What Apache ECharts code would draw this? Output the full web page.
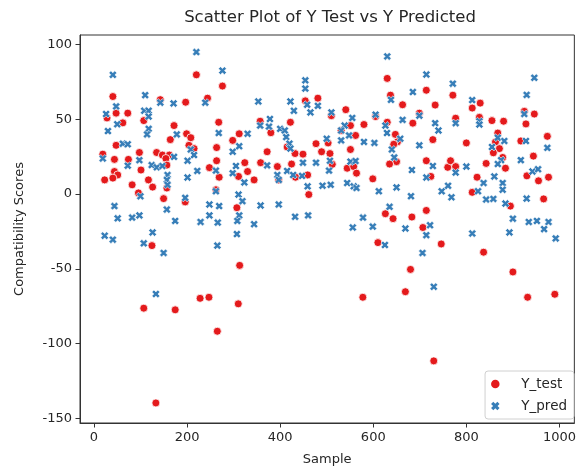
<!DOCTYPE html>
<html>
<head>
<meta charset="utf-8">
<script src="https://cdn.jsdelivr.net/npm/echarts@6/dist/echarts.min.js"></script>
<style>html,body{margin:0;padding:0;background:#fff}#c{width:579px;height:471px}</style>
</head>
<body>
<div id="c"></div>
<script>
// Y_test values (sample index, score)
const yTest = [
[220,79.6],[40.6,65.1],[197,61.3],[47.6,54],[72.6,54],[28,50.8],[62,47.5],[107,49],[172,45.7],[164,36.3],[199,40.2],[208,37.6],[47.6,32.5],[204,32.5],[215,30.3],[97.6,27.7],[134.6,27.7],[147,26],[162,26],[19,26.6],[44,23.1],[74,23.1],[154.5,23.7],[156.6,19.3],[101,16],[44,15],[51,12.7],[23,9.4],[40.6,10.6],[117,9.4],[82,6.1],[126,4.6],[95.5,0.7],[149.6,-3.1],[196,-5.3],[156.6,4],[142.5,63],
[276,72.1],[244,64],[454,62.2],[481,64],[268,47.9],[357,48.6],[422,47.9],[312,40.2],[298,35.8],[380,40.9],[263.5,31],[415,31.4],[477,33.6],[489,28.2],[372,28.2],[432,27],[449,26.6],[263.5,22.2],[324,20.9],[358,20.9],[248,17.6],[424.5,20],[269,11.2],[330,15],[394,18.3],[310.5,11.7],[344,9.4],[397,9.4],[433,11.2],[459,12.7],[262,2.8],[461.5,-0.4],[307,-9.2],
[630,77.2],[714,69.3],[637,66],[663,59.6],[733,59.4],[541,56.3],[510,52.3],[605,51.7],[630,47.9],[580,46.4],[685,47.3],[699,54],[551,45.7],[562,39.1],[647.5,39.8],[531,42.4],[503,34.1],[652,34.8],[728,36.3],[551,29.7],[507,27],[644,33.2],[650,21.6],[635,20],[714,22.2],[760,17.8],[512,19.8],[544,17.2],[558,18.3],[564,13.9],[599,10.1],[723.7,11.7],[626,-13.2],[642.5,-16.5],[683,-15.4],[714,-11],[706.6,-22.4],[610,-32.5],
[771,66],[812.6,57.4],[829.7,60.7],[777,50.6],[828,51.2],[855,49],[880,48.6],[924.5,55.2],[946,53.4],[928,46.8],[800,34.1],[867.5,40.7],[862.6,34.8],[871,30.3],[858,27.5],[917,35.4],[974,38.5],[878,24.4],[944,25.3],[766,22.2],[777,18.3],[842.5,20.4],[884,17.2],[823,11.2],[930,12.1],[955,8.8],[976.5,11.2],[812.6,1.1],[966,-3.3],[894.6,-8.1],
[124.6,-34.5],[313,-47.7],[107,-76.3],[174.5,-77.4],[228,-69.7],[247,-69],[310,-73.4],[265,-91.7],[133,-139.6],
[746,-33.4],[837,-38.9],[680,-50.4],[900,-52.1],[577.6,-69],[669,-65.3],[931.6,-69],[990,-67],[730,-111.5]
];
// Y_pred values (sample index, score)
const yPred = [
[220,94.8],[40.6,79.6],[110,66],[142.5,61],[171,60.5],[239,61],[47.6,58.5],[26,53.4],[108,55.6],[117.5,55.6],[117.5,51.7],[50,46.6],[30,42],[117.5,43.5],[114,39.8],[178,39.8],[62,33.6],[72.6,33.2],[208,29.7],[215,26],[19,23.7],[97.6,22.6],[172,24.8],[201,22.2],[72.6,18.9],[124,19.3],[135,17.8],[147,18.7],[222,15.4],[158,12.7],[201,11],[156.6,9.4],[158,6.1],[99.8,-1.5],[196,-2.6],[44,-8.1],[156.6,-10.4],[51,-16.3],[82,-15.8],[97.6,-14.3],[174.5,-18],[229,-18.7],[126,-25.7],[23,-27.9],[40.6,-30.5],
[276,82.4],[353,61.8],[454,75.9],[454,70.4],[422,61.8],[429.5,55.6],[458,59.6],[481,58.9],[465,54.5],[378,50.1],[357,45.7],[376,45],[400,43.5],[410,42.4],[413,38],[330,40.2],[268,40.7],[420,33.6],[422,30.3],[312,31.9],[298,28.2],[449,20.9],[477,20.9],[305,18.7],[372,19.1],[262,15.6],[298,13.9],[394,12.7],[415,15.4],[428,12.7],[447,12.1],[323,7.7],[397,9.4],[459,5.1],[262,1.8],[310.5,-0.4],[319,-4.8],[248,-7],[269,-8.1],[358,-7.7],[397,-7],[248,-14.3],[312,-14.3],[266,-19.1],[308,-18],[344,-20.2],[432,-15.2],[460,-14.3],[307,-26.8],
[630,91.9],[714,79.8],[638,62.9],[685,68.1],[510,54.5],[555,50.8],[605,53],[663,49.5],[699,52.3],[733,47.3],[740,42.4],[538.5,45.7],[531,42.4],[548,39.1],[626,45.7],[629.5,40.7],[658,36.9],[500,36.9],[531,35.8],[580,34.8],[602.5,34.1],[699,32.5],[640,29.7],[645,24.4],[507,22.2],[551,21.6],[562,22],[728,18.7],[505,15.6],[683,16],[714,11],[491,5.5],[508.5,6.1],[544,7.3],[558,5.1],[564,4],[612,1.8],[650,4.4],[681,-1.5],[747,1.8],[635,-8.6],[578,-15.8],[556,-22.4],[599,-21.8],[669,-23.1],[722,-20.9],[714,-27.5],
[946,77.6],[771,73.7],[929.5,66.2],[812.6,62.7],[924.5,53.4],[777,47.3],[828,48.6],[828,46.4],[867.5,37.6],[881.6,35.4],[928,35.4],[855,31.4],[974,30.8],[874.6,22.6],[867.5,20],[917,22.6],[800,18.3],[777,14.3],[942,15],[954,16.5],[860,11.7],[837,7.3],[878,7.3],[760.7,5.5],[878,2.8],[825,1.8],[768,-2.2],[842.5,-3.7],[858,-3.3],[884,-6.4],[929.5,-3.1],[900,-16.5],[934,-18.7],[951.5,-18],[976.5,-18.7],[967,-23.5],[992,-29.7],[812.6,-26.4],[892.5,-25.7],
[107,-33],[149.6,-39.4],[265,-34.5],[133,-66.8],
[625,-34.1],[705.8,-39.4],[730,-62]
];
const xTicks = [0, 200, 400, 600, 800, 1000];
const yTicks = [-150, -100, -50, 0, 50, 100];
const seriesNames = ['Y_test', 'Y_pred'];

const FONT = 'DejaVu Sans';
const TXT = '#262626';
const AX = '#333';
const xMark = 'path://M-46,-95.5L0,-49.5L46,-95.5L95.5,-46L49.5,0L95.5,46L46,95.5L0,49.5L-46,95.5L-95.5,46L-49.5,0L-95.5,-46Z';

const chart = echarts.init(document.getElementById('c'), null, {renderer: 'canvas'});
chart.setOption({
  animation: false,
  backgroundColor: '#fff',
  title: {
    text: 'Scatter Plot of Y Test vs Y Predicted',
    left: 330, top: 9, textAlign: 'center', padding: 0,
    textStyle: {fontFamily: FONT, fontSize: 16.5, fontWeight: 'normal', color: TXT}
  },
  grid: {left: 80, right: 2, top: 35, bottom: 43, show: true, borderColor: AX, borderWidth: 1, backgroundColor: 'transparent'},
  xAxis: {
    type: 'value', min: -30, max: 1032,
    name: 'Sample', nameLocation: 'middle', nameGap: 30,
    nameTextStyle: {fontFamily: FONT, fontSize: 13, color: TXT},
    axisLine: {show: true, onZero: false, lineStyle: {color: AX, width: 1}},
    axisTick: {show: true, length: 4.5, lineStyle: {color: AX}, customValues: xTicks},
    axisLabel: {fontFamily: FONT, fontSize: 13, color: TXT, margin: 8, customValues: xTicks, formatter: v => String(v)},
    splitLine: {show: false}
  },
  yAxis: {
    type: 'value', min: -153, max: 106.2,
    name: 'Compatibility Scores', nameLocation: 'middle', nameGap: 54, nameRotate: 90,
    nameTextStyle: {fontFamily: FONT, fontSize: 13, color: TXT},
    axisLine: {show: true, onZero: false, lineStyle: {color: AX, width: 1}},
    axisTick: {show: true, length: 4.5, lineStyle: {color: AX}, customValues: yTicks},
    axisLabel: {fontFamily: FONT, fontSize: 13, color: TXT, margin: 8, customValues: yTicks, formatter: v => String(v)},
    splitLine: {show: false}
  },
  legend: {
    right: 5, bottom: 52, orient: 'vertical',
    data: seriesNames,
    itemWidth: 26, itemHeight: 8.5, itemGap: 8,
    padding: [6, 7, 6, 6],
    borderColor: '#d0d0d0', borderWidth: 1, borderRadius: 3,
    backgroundColor: 'rgba(255,255,255,0.85)',
    itemStyle: {borderWidth: 0},
    formatter: name => '{t|' + name + '}',
    textStyle: {fontFamily: FONT, fontSize: 13.5, color: TXT,
      rich: {t: {fontFamily: FONT, fontSize: 13.5, color: TXT, padding: [0, 0, 0, 8]}}}
  },
  series: [
    {
      name: seriesNames[0], type: 'scatter', data: yTest,
      symbol: 'circle', symbolSize: 8,
      itemStyle: {color: '#e41a1c', borderColor: '#fff', borderWidth: 0.8, opacity: 1}
    },
    {
      name: seriesNames[1], type: 'scatter', data: yPred,
      symbol: xMark, symbolSize: 8,
      itemStyle: {color: '#377eb8', borderColor: '#fff', borderWidth: 0.6, opacity: 1}
    }
  ]
});
</script>
</body>
</html>
